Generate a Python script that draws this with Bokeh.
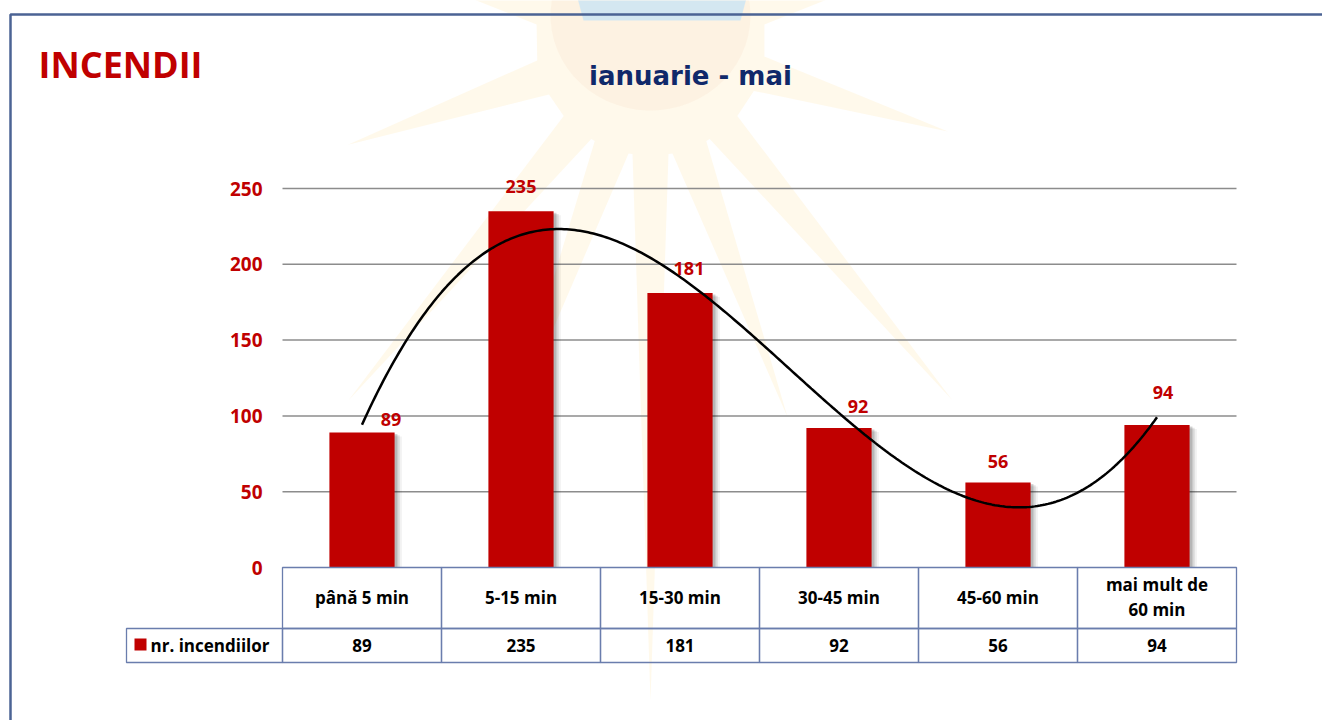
import numpy as np
from bokeh.plotting import figure
from bokeh.models import Range1d, Label, BoxAnnotation, PolyAnnotation, ColumnDataSource
from bokeh.core.properties import value
from bokeh.embed import file_html
from bokeh.resources import INLINE

# ---------------- data ----------------
categories = ["până 5 min", "5-15 min", "15-30 min", "30-45 min", "45-60 min", "mai mult de\n60 min"]
counts = [89, 235, 181, 92, 56, 94]
series_name = "nr. incendiilor"
y_ticks = [0, 50, 100, 150, 200, 250]
title_text = "INCENDII"
subtitle_text = "ianuarie - mai"

# ---------------- layout constants (page px) ----------------
W, H = 1322, 720
FL, FR = 282, 1236          # plot area left/right
Y0_PX, Y250_PX = 567, 188   # pixel rows of value 0 and 250
n = len(categories)
px_per_x = (FR - FL) / n
px_per_y = (Y0_PX - Y250_PX) / 250.0

def dx(xr):
    return 0.5 + (xr - FL) / px_per_x

def dy(yr):
    return (Y0_PX - yr) / px_per_y

RED = "#C00000"
FONT = "Open Sans"

p = figure(width=W, height=H, output_backend="svg", toolbar_location=None,
           x_range=Range1d(dx(0), dx(W)), y_range=Range1d(dy(H), dy(0)),
           min_border=0)
p.outline_line_color = None
p.background_fill_color = "white"
p.border_fill_color = "white"
p.xaxis.visible = False
p.yaxis.visible = False
p.xgrid.visible = False
p.ygrid.visible = False

# ---------------- watermark (faint sun emblem) ----------------
cx, cy = 650, 40
rays = [(17, 311), (50, 469), (70, 400), (90, 660), (110, 430), (130, 470), (161, 320),
        (197, 330), (230, 300), (270, 300), (310, 300), (343, 330)]
r_in, half = 115, 9
sx, sy = [], []
for ang, L in rays:
    for a, r in ((ang - half, r_in), (ang, L), (ang + half, r_in)):
        t = np.deg2rad(a)
        sx.append(dx(cx + r * np.cos(t)))
        sy.append(dy(cy + r * np.sin(t)))
p.add_layout(PolyAnnotation(xs=sx, ys=sy, fill_color="#FFE6AE", fill_alpha=0.25,
                            line_color=None, level="underlay"))
tt = np.linspace(0, 2 * np.pi, 60)
p.add_layout(PolyAnnotation(xs=[dx(cx + 100 * np.cos(a)) for a in tt],
                            ys=[dy(cy - 25 + 95 * np.sin(a)) for a in tt],
                            fill_color="#F8DCC4", fill_alpha=0.22, line_color=None, level="underlay"))
p.add_layout(PolyAnnotation(xs=[dx(575), dx(748), dx(740), dx(583)],
                            ys=[dy(-10), dy(-10), dy(20), dy(20)],
                            fill_color="#CFE6F3", fill_alpha=0.9, line_color=None, level="underlay"))

# ---------------- page border ----------------
p.add_layout(BoxAnnotation(left=dx(10), right=dx(1500), top=dy(14), bottom=dy(900),
                           fill_color=None, fill_alpha=0, line_color="#4B6394",
                           line_alpha=1, line_width=2.5))

# ---------------- value axis: gridlines and tick labels ----------------
grid_vals = y_ticks[1:]
p.segment(x0=[0.5] * len(grid_vals), x1=[n + 0.5] * len(grid_vals), y0=grid_vals, y1=grid_vals,
          line_color="#8C8C8C", line_width=1.5)
p.text(x=[0.5] * len(y_ticks), y=y_ticks, text=[str(t) for t in y_ticks], x_offset=-20,
       text_align="right", text_baseline="middle", text_color=RED,
       text_font=value(FONT), text_font_style="bold", text_font_size="19px")

# ---------------- bars ----------------
xs = list(range(1, n + 1))
src = ColumnDataSource(dict(x=xs, top=counts, lab=[str(c) for c in counts],
                            xo=[29, 0, 9, 19, 0, 6], yo=[-13, -25, -25, -22, -21, -32]))
BW = 0.41
for off, dtop, alpha in ((0.018, 1.0, 0.16), (0.032, 1.8, 0.10), (0.046, 2.6, 0.05)):
    p.vbar(x=[x + off for x in xs], top=[c - dtop for c in counts], width=BW,
           fill_color="black", fill_alpha=alpha, line_color=None)
p.vbar(x="x", top="top", width=BW, source=src, fill_color=RED, line_color=None)

# ---------------- trend line (3rd order polynomial) ----------------
coef = np.polyfit(xs, counts, 3)
xx = np.linspace(1, n, 300)
p.line(xx, np.polyval(coef, xx), line_color="black", line_width=2.5)

# ---------------- data labels ----------------
p.text(x="x", y="top", text="lab", source=src, x_offset="xo", y_offset="yo",
       text_align="center", text_baseline="alphabetic", text_color=RED,
       text_font=value(FONT), text_font_style="bold", text_font_size="18px")

# ---------------- titles ----------------
p.add_layout(Label(x=dx(38), y=dy(64), text=title_text, text_color=RED,
                   text_font=FONT, text_font_style="bold", text_font_size="36px",
                   text_align="left", text_baseline="middle"))
p.add_layout(Label(x=dx(690), y=dy(75), text=subtitle_text, text_color="#10296A",
                   text_font="DejaVu Sans", text_font_style="bold", text_font_size="26px",
                   text_align="center", text_baseline="middle"))

# ---------------- data table ----------------
TB = "#6A7DAD"
ROW1_T, ROW1_B, ROW2_B = 567, 628, 662
cell = dict(fill_color=None, fill_alpha=0, line_color=TB, line_alpha=1, line_width=1.3)
for i in range(n):
    l, r = FL + i * px_per_x, FL + (i + 1) * px_per_x
    p.add_layout(BoxAnnotation(left=dx(l), right=dx(r), top=dy(ROW1_T), bottom=dy(ROW1_B), **cell))
    p.add_layout(BoxAnnotation(left=dx(l), right=dx(r), top=dy(ROW1_B), bottom=dy(ROW2_B), **cell))
    p.add_layout(Label(x=xs[i], y=dy((ROW1_T + ROW1_B) / 2 - 1), text=categories[i],
                       text_align="center", text_baseline="middle", text_color="black",
                       text_font=FONT, text_font_style="bold", text_font_size="17px",
                       text_line_height=1.08))
    p.add_layout(Label(x=xs[i], y=dy((ROW1_B + ROW2_B) / 2), text=str(counts[i]),
                       text_align="center", text_baseline="middle", text_color="black",
                       text_font=FONT, text_font_style="bold", text_font_size="17px"))
p.add_layout(BoxAnnotation(left=dx(126), right=dx(FL), top=dy(ROW1_B), bottom=dy(ROW2_B), **cell))
p.add_layout(BoxAnnotation(left=dx(134), right=dx(146), top=dy(638), bottom=dy(650),
                           fill_color=RED, fill_alpha=1, line_color=None))
p.add_layout(Label(x=dx(150), y=dy((ROW1_B + ROW2_B) / 2), text=series_name,
                   text_align="left", text_baseline="middle", text_color="black",
                   text_font=FONT, text_font_style="bold", text_font_size="17px"))

open("out.html", "w").write(file_html(p, INLINE))
